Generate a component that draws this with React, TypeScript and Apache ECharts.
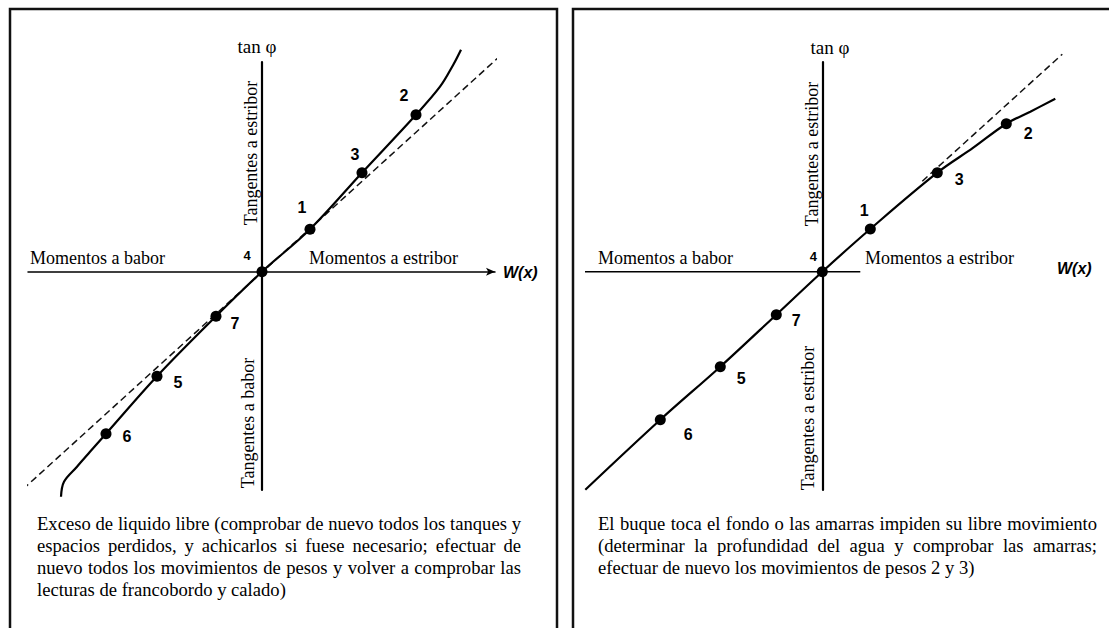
import React, { useEffect, useRef } from "react";
import * as echarts from "echarts";

// Units: one unit of W(x) or tan φ along each axis; both panels share the scale.
type Pt = { name: string; x: number; y: number };

// Left panel – excess free liquid: the curve bends away from the tangent at both ends
const LEFT_POINTS: Pt[] = [
  { name: "6", x: -15.6, y: -16.2 },
  { name: "5", x: -10.5, y: -10.45 },
  { name: "7", x: -4.6, y: -4.45 },
  { name: "4", x: 0, y: 0 },
  { name: "1", x: 4.8, y: 4.25 },
  { name: "3", x: 10.0, y: 9.9 },
  { name: "2", x: 15.4, y: 15.7 },
];
const LEFT_CURVE_LOW: [number, number][] = [
  [-20.1, -22.5],
  [-19.8, -21.0],
  [-18.5, -19.5],
  [-17.2, -18.0],
];
const LEFT_CURVE_HIGH: [number, number][] = [
  [17.8, 18.5],
  [19.1, 20.65],
  [19.9, 22.2],
];
const LEFT_TANGENT: [number, number][] = [
  [-23.9, -21.75],
  [24.0, 21.75],
];

// Right panel – ship touching bottom / restrained by moorings
const RIGHT_POINTS: Pt[] = [
  { name: "6", x: -16.2, y: -14.8 },
  { name: "5", x: -10.2, y: -9.5 },
  { name: "7", x: -4.6, y: -4.3 },
  { name: "4", x: 0, y: 0 },
  { name: "1", x: 4.8, y: 4.27 },
  { name: "3", x: 11.5, y: 9.9 },
  { name: "2", x: 18.4, y: 14.8 },
];
const RIGHT_CURVE_LOW: [number, number][] = [[-23.7, -21.8]];
const RIGHT_CURVE_MID: [number, number][] = [[15.1, 12.4]];
const RIGHT_CURVE_HIGH: [number, number][] = [
  [20.8, 16.0],
  [23.3, 17.3],
];
const RIGHT_TANGENT: [number, number][] = [
  [10.0, 9.05],
  [24.0, 21.75],
];

// Axis extents for each panel
const LEFT_X_RANGE = [-23.4, 23.3];
const RIGHT_X_RANGE = [-23.73, 24.2];
const RIGHT_MOMENT_AXIS = [-23.73, 3.8]; // drawn part of the W(x) axis on the right
const Y_RANGE = [-21.83, 20.97];

// Label placement around each point, in pixels
const LEFT_LABEL_OFFSETS: Record<string, [number, number]> = {
  "6": [21, 3],
  "5": [21, 6],
  "7": [19, 7],
  "4": [-15, -16],
  "1": [-8, -22],
  "3": [-7, -18],
  "2": [-12, -19],
};
const RIGHT_LABEL_OFFSETS: Record<string, [number, number]> = {
  "6": [28, 15],
  "5": [21, 12],
  "7": [20, 6],
  "4": [-9, -15],
  "1": [-6, -19],
  "3": [22, 7],
  "2": [22, 10],
};

const LEFT_NOTE = [
  "Exceso de liquido libre (comprobar de nuevo todos los tanques y",
  "espacios perdidos, y achicarlos si fuese necesario; efectuar de",
  "nuevo todos los movimientos de pesos y volver a comprobar las",
  "lecturas de francobordo y calado)",
];
const RIGHT_NOTE = [
  "El buque toca el fondo o las amarras impiden su libre movimiento",
  "(determinar la profundidad del agua y comprobar las amarras;",
  "efectuar de nuevo los movimientos de pesos 2 y 3)",
];

const INK = "#000";
const SERIF_NAME = "Liberation Serif";
const SERIF = '"Liberation Serif", "Times New Roman", serif';
const SANS = '"Liberation Sans", Arial, sans-serif';
const NOTE_SIZE = 18.6;

function txt(
  text: string,
  x: number,
  y: number,
  opts: { size?: number; family?: string; weight?: string; italic?: boolean; align?: string; rotate?: number } = {}
) {
  const size = opts.size ?? 18;
  const align = opts.align ?? "left";
  return {
    type: "text",
    x,
    y,
    rotation: opts.rotate ?? 0,
    silent: true,
    style: {
      text,
      fill: INK,
      fontSize: size,
      fontFamily: opts.family ?? SERIF,
      fontWeight: opts.weight ?? "normal",
      fontStyle: opts.italic ? "italic" : "normal",
      align,
      verticalAlign: "middle",
      textAlign: align,
      textVerticalAlign: "middle",
    },
  };
}

// Justified paragraph: every line but the last is spread to the full width.
function paragraph(lines: string[], left: number, right: number, top: number, lineGap: number) {
  const canvas = document.createElement("canvas");
  const ctx = canvas.getContext("2d")!;
  ctx.font = `${NOTE_SIZE}px "${SERIF_NAME}"`;
  const out: any[] = [];
  lines.forEach((line, i) => {
    const y = top + i * lineGap;
    if (i === lines.length - 1) {
      out.push(txt(line, left, y, { size: NOTE_SIZE }));
      return;
    }
    const words = line.split(" ");
    const widths = words.map((w) => ctx.measureText(w).width);
    const total = widths.reduce((a, b) => a + b, 0);
    const gap = (right - left - total) / (words.length - 1);
    let x = left;
    words.forEach((w, k) => {
      out.push(txt(w, x, y, { size: NOTE_SIZE }));
      x += widths[k] + gap;
    });
  });
  return out;
}

function curveOf(low: [number, number][], pts: Pt[], mid: [number, number][], high: [number, number][]) {
  const all: [number, number][] = [...low, ...pts.map((p) => [p.x, p.y] as [number, number]), ...mid, ...high];
  return all.sort((a, b) => a[0] - b[0]);
}

function pointSeries(pts: Pt[], offsets: Record<string, [number, number]>, idx: number) {
  return {
    type: "scatter",
    xAxisIndex: idx,
    yAxisIndex: idx,
    symbol: "circle",
    symbolSize: 11,
    itemStyle: { color: INK, opacity: 1 },
    z: 5,
    data: pts.map((p) => ({
      name: p.name,
      value: [p.x, p.y],
      label: {
        show: true,
        position: "inside",
        offset: offsets[p.name],
        formatter: p.name,
        color: INK,
        fontFamily: SANS,
        fontWeight: "bold",
        fontSize: p.name === "4" ? 13 : 16,
      },
    })),
  };
}

export default function App() {
  const ref = useRef<HTMLDivElement>(null);

  useEffect(() => {
    if (!ref.current) return;
    const chart = echarts.init(ref.current, undefined, { renderer: "svg" });

    const axisCommon = {
      type: "value",
      axisTick: { show: false },
      axisLabel: { show: false },
      splitLine: { show: false },
    };
    const curveStyle = { color: INK, width: 2.2 };
    const dashStyle = { color: "#111", width: 1.5, type: [7, 4] };

    const option: any = {
      animation: false,
      backgroundColor: "#fff",
      grid: [
        { left: 28, top: 62, width: 467, height: 428 },
        { left: 585, top: 62, width: 479.3, height: 428 },
      ],
      xAxis: [
        {
          ...axisCommon,
          gridIndex: 0,
          min: LEFT_X_RANGE[0],
          max: LEFT_X_RANGE[1],
          axisLine: {
            show: true,
            onZero: true,
            symbol: ["none", "arrow"],
            symbolSize: [6, 9],
            lineStyle: { color: INK, width: 1.5 },
          },
        },
        {
          ...axisCommon,
          gridIndex: 1,
          min: RIGHT_X_RANGE[0],
          max: RIGHT_X_RANGE[1],
          axisLine: { show: false, onZero: true },
        },
      ],
      yAxis: [
        {
          ...axisCommon,
          gridIndex: 0,
          min: Y_RANGE[0],
          max: Y_RANGE[1],
          axisLine: { show: true, onZero: true, lineStyle: { color: INK, width: 2.2 } },
        },
        {
          ...axisCommon,
          gridIndex: 1,
          min: Y_RANGE[0],
          max: Y_RANGE[1],
          axisLine: { show: true, onZero: true, lineStyle: { color: INK, width: 2.2 } },
        },
      ],
      series: [
        {
          type: "line",
          xAxisIndex: 0,
          yAxisIndex: 0,
          data: curveOf(LEFT_CURVE_LOW, LEFT_POINTS, [], LEFT_CURVE_HIGH),
          smooth: 0.35,
          showSymbol: false,
          clip: false,
          lineStyle: curveStyle,
          z: 3,
        },
        {
          type: "line",
          xAxisIndex: 0,
          yAxisIndex: 0,
          data: LEFT_TANGENT,
          showSymbol: false,
          clip: false,
          lineStyle: dashStyle,
          z: 2,
        },
        pointSeries(LEFT_POINTS, LEFT_LABEL_OFFSETS, 0),
        {
          // short W(x) axis of the right panel
          type: "line",
          xAxisIndex: 1,
          yAxisIndex: 1,
          data: [
            [RIGHT_MOMENT_AXIS[0], 0],
            [RIGHT_MOMENT_AXIS[1], 0],
          ],
          showSymbol: false,
          silent: true,
          lineStyle: { color: INK, width: 1.5 },
          z: 1,
        },
        {
          type: "line",
          xAxisIndex: 1,
          yAxisIndex: 1,
          data: curveOf(RIGHT_CURVE_LOW, RIGHT_POINTS, RIGHT_CURVE_MID, RIGHT_CURVE_HIGH),
          smooth: 0.35,
          showSymbol: false,
          clip: false,
          lineStyle: curveStyle,
          z: 3,
        },
        {
          type: "line",
          xAxisIndex: 1,
          yAxisIndex: 1,
          data: RIGHT_TANGENT,
          showSymbol: false,
          clip: false,
          lineStyle: dashStyle,
          z: 2,
        },
        pointSeries(RIGHT_POINTS, RIGHT_LABEL_OFFSETS, 1),
      ],
      graphic: [
        // panel frames
        {
          type: "polyline",
          silent: true,
          shape: { points: [[10, 640], [10, 9], [557, 9], [557, 640]] },
          style: { stroke: "#111", lineWidth: 2.5, fill: "none" },
        },
        {
          type: "polyline",
          silent: true,
          shape: { points: [[573, 640], [573, 9], [1115, 9]] },
          style: { stroke: "#111", lineWidth: 2.5, fill: "none" },
        },
        // left panel texts
        txt("tan φ", 257, 46, { align: "center", size: 19 }),
        txt("Tangentes a estribor", 251, 153, { align: "center", rotate: Math.PI / 2 }),
        txt("Tangentes a babor", 248, 423, { align: "center", rotate: Math.PI / 2 }),
        txt("Momentos a babor", 30, 258),
        txt("Momentos a estribor", 309, 258),
        txt("W(x)", 503, 272, { size: 16, family: SANS, weight: "bold", italic: true }),
        ...paragraph(LEFT_NOTE, 37, 521, 523, 22),
        // right panel texts
        txt("tan φ", 830, 47, { align: "center", size: 19 }),
        txt("Tangentes a estribor", 812, 154, { align: "center", rotate: Math.PI / 2 }),
        txt("Tangentes a estribor", 808, 418, { align: "center", rotate: Math.PI / 2 }),
        txt("Momentos a babor", 598, 258),
        txt("Momentos a estribor", 865, 258),
        txt("W(x)", 1057, 268, { size: 16, family: SANS, weight: "bold", italic: true }),
        ...paragraph(RIGHT_NOTE, 598, 1097, 523, 22),
      ],
    };

    chart.setOption(option);
    return () => chart.dispose();
  }, []);

  return (
    <div
      ref={ref}
      style={{ position: "fixed", left: 0, top: 0, width: 1109, height: 628, background: "#fff" }}
    />
  );
}
